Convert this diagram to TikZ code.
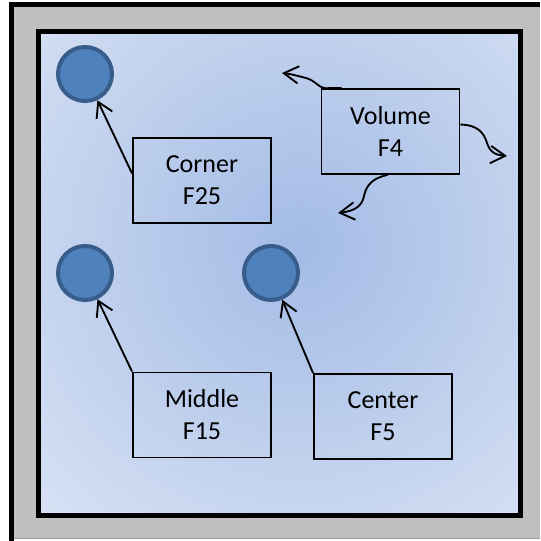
\documentclass[tikz,border=0pt]{standalone}
\usepackage{fontspec}
\setmainfont{Carlito}
\usetikzlibrary{arrows.meta,calc}
\definecolor{framegray}{RGB}{191,191,191}
\definecolor{gcen}{RGB}{163,187,229}
\definecolor{gout}{RGB}{232,238,249}
\definecolor{dotfill}{RGB}{79,129,189}
\definecolor{dotline}{RGB}{56,93,138}
\begin{document}
\begin{tikzpicture}[x=0.75pt,y=-0.75pt,
 dot/.style={circle,fill=dotfill,draw=dotline,line width=3pt,minimum size=40.5pt,inner sep=0pt},
 textbox/.style={draw=black,line width=1.4pt,minimum width=103.5pt,minimum height=63.75pt,align=center,font=\fontsize{19.5}{24}\selectfont,inner sep=0pt},
 pointer/.style={line width=1.4pt,-{Straight Barb[length=11pt,width=13pt]}}]
\useasboundingbox (0,0) rectangle (540,541);
% outer frame
\fill[framegray] (9,2) rectangle (540,539);
\draw[line width=3.75pt] (11.5,541) -- (11.5,4.5) -- (540,4.5);
\draw[black!40, line width=0.75pt] (14,538.6) -- (540,538.6);
% inner shaded area
\begin{scope}
\clip (41,34) rectangle (518,513);
\shade[inner color=gcen, outer color=gout] (300,245) circle (500);
\end{scope}
\draw[line width=3.75pt] (38.5,31.5) rectangle (520.5,515.5);
% circles
\node[dot] (c1) at (85,74) {};
\node[dot] (c2) at (85,273) {};
\node[dot] (c3) at (271,273) {};
% boxes
\node[textbox] (corner) at (202,180.5) {Corner\\F25};
\node[textbox] (vol) at (390.5,131.5) {Volume\\F4};
\node[textbox] (middle) at (202,415) {Middle\\F15};
\node[textbox] (ctr) at (383,416.5) {Center\\F5};
% straight pointers
\draw[pointer] ($(corner.north west)!0.42!(corner.south west)$) -- (c1);
\draw[pointer] (middle.north west) -- (c2);
\draw[pointer] (ctr.north west) -- (c3);
% wavy pointers
\coordinate (v1) at (282,73);
\coordinate (v2) at (507,156);
\coordinate (v3) at (338,213);
\draw[pointer] ($(vol.north west)!0.15!(vol.north east)$) -- ++(-12,0) .. controls (319,90) and (317,81) .. (306,78) .. controls (298,76) and (291,74) .. (v1);
\draw[pointer] ($(vol.north east)!0.42!(vol.south east)$) .. controls (478,125) and (484,133) .. (487,143) .. controls (490,152) and (495,155) .. (v2);
\draw[pointer] ($(vol.south west)!0.48!(vol.south east)$) .. controls (372,178) and (366,186) .. (364,196) .. controls (362,206) and (355,211) .. (v3);
\end{tikzpicture}
\end{document}
